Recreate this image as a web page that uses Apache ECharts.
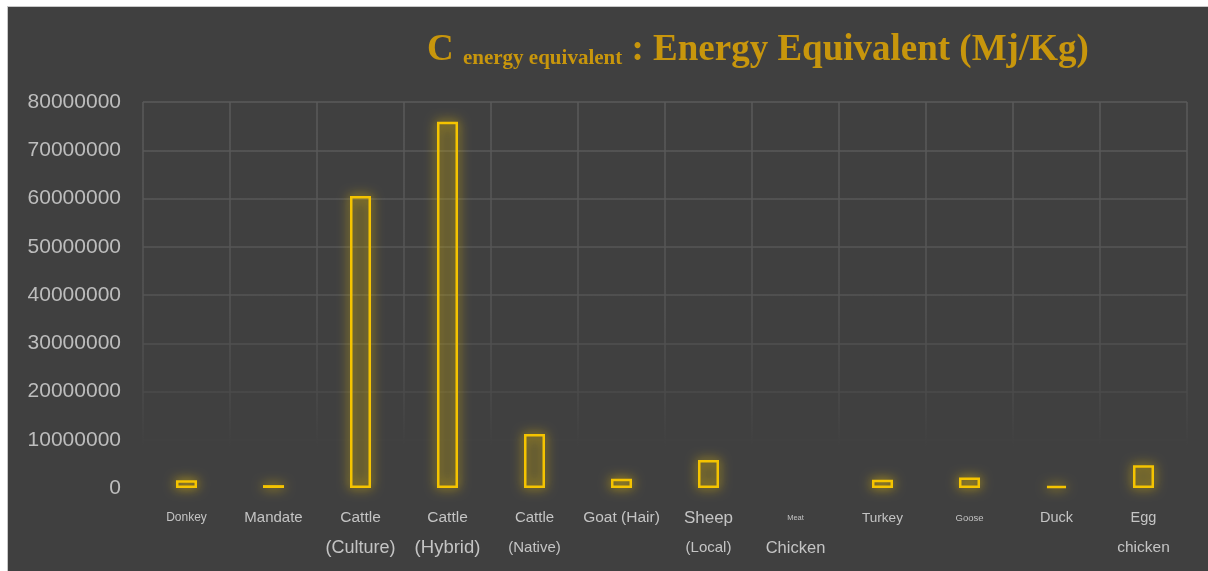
<!DOCTYPE html>
<html>
<head>
<meta charset="utf-8">
<script src="https://cdn.jsdelivr.net/npm/echarts@6/dist/echarts.min.js"></script>
<style>
  html, body { margin: 0; padding: 0; background: #ffffff; }
  #chart {
    position: absolute; left: 7px; top: 6px;
    width: 1201px; height: 565px;
    border-top: 1px solid #c8c8c8; border-left: 1px solid #c8c8c8;
  }
</style>
</head>
<body>
<div id="chart"></div>
<script>
// categories (label lines split by \n)
const categories = ['Donkey', 'Mandate', 'Cattle\n(Culture)', 'Cattle\n(Hybrid)', 'Cattle\n(Native)',
    'Goat (Hair)', 'Sheep\n(Local)', 'Meat\nChicken', 'Turkey', 'Goose', 'Duck', 'Egg\nchicken'];
// energy equivalent, Mj/Kg (Meat Chicken shows no bar)
const energyValues = [1600000, 600000, 60500000, 75900000, 11200000, 1900000,
    5800000, null, 1700000, 2200000, 400000, 4700000];
const yTicks = { min: 0, max: 80000000, interval: 10000000 };

// per-line label font sizes (the source uses mixed sizes)
const labelSizes = [[12], [15], [15.5, 18], [15.5, 18.5], [15, 15], [15.5],
    [17, 15], [7.5, 16.5], [13.5], [9.5], [14.5], [14.5, 15.5]];

const rich = {};
labelSizes.forEach(sizes => sizes.forEach(s => {
    rich['f' + Math.round(s * 10)] = {
        fontSize: s, lineHeight: 30, color: '#c4c4c4',
        fontFamily: 'Liberation Sans, Arial, sans-serif'
    };
}));

const gridFade = {
    type: 'linear', x: 0, y: 95, x2: 0, y2: 440, global: true,
    colorStops: [
        { offset: 0, color: '#5a5a5a' },
        { offset: 0.6, color: '#545454' },
        { offset: 0.85, color: '#4a4a4a' },
        { offset: 1, color: '#404040' }
    ]
};

const chart = echarts.init(document.getElementById('chart'), null, { renderer: 'canvas' });
chart.setOption({
    backgroundColor: '#404040',
    animation: false,
    title: {
        left: 414, top: 13,
        text: '{b|C }{s|energy equivalent}{b| : Energy Equivalent (Mj/Kg)}',
        textStyle: {
            rich: {
                b: { fontSize: 37, fontWeight: 'bold', color: '#c8960c',
                     fontFamily: 'Liberation Serif, Times New Roman, serif',
                     lineHeight: 44, verticalAlign: 'bottom' },
                s: { fontSize: 21, fontWeight: 'bold', color: '#c8960c',
                     fontFamily: 'Liberation Serif, Times New Roman, serif',
                     lineHeight: 33, verticalAlign: 'bottom' }
            }
        }
    },
    grid: { left: 135, right: 22, top: 95, bottom: 84 },
    xAxis: {
        type: 'category',
        data: categories,
        axisLine: { show: false },
        axisTick: { show: false },
        splitLine: { show: true, lineStyle: { color: gridFade, width: 1.5 } },
        axisLabel: {
            interval: 0, margin: 15,
            formatter: (value, idx) => value.split('\n')
                .map((line, i) => '{f' + Math.round(labelSizes[idx][i] * 10) + '|' + line + '}')
                .join('\n'),
            rich: rich
        }
    },
    yAxis: {
        type: 'value',
        min: yTicks.min, max: yTicks.max, interval: yTicks.interval,
        axisLine: { show: false },
        axisTick: { show: false },
        splitLine: { lineStyle: { color: gridFade, width: 1.5 } },
        axisLabel: {
            color: '#bdbdbd', fontSize: 21, margin: 22,
            fontFamily: 'Liberation Sans, Arial, sans-serif',
            formatter: v => String(v)
        }
    },
    series: [{
        type: 'bar',
        data: energyValues,
        barWidth: 21,
        itemStyle: {
            color: 'rgba(235, 190, 0, 0.08)',
            borderColor: '#f5c400',
            borderWidth: 2.5,
            shadowBlur: 12,
            shadowColor: 'rgba(245, 200, 0, 1)'
        }
    }]
});
</script>
</body>
</html>
